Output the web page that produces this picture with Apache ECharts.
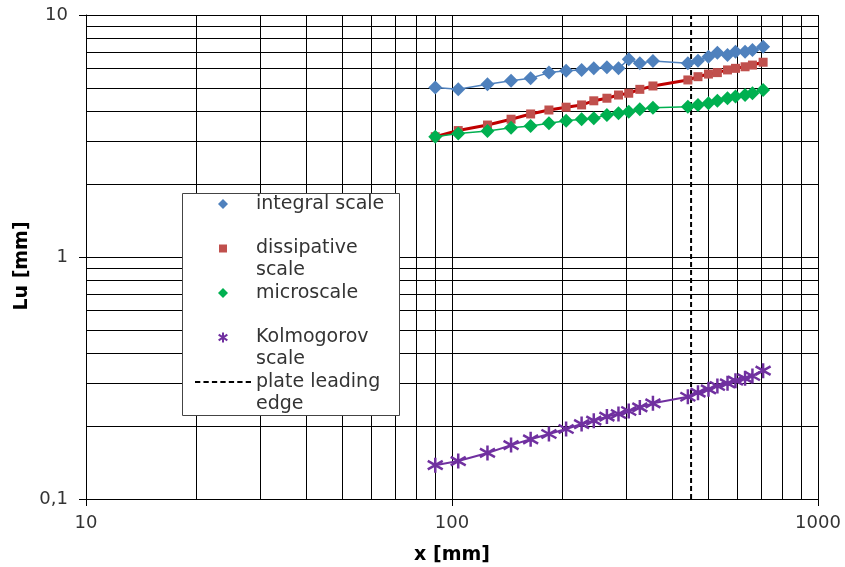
<!DOCTYPE html>
<html>
<head>
<meta charset="utf-8">
<script src="https://cdn.jsdelivr.net/npm/echarts@6/dist/echarts.min.js"></script>
<style>
html,body{margin:0;padding:0;background:#fff;}
#chart{width:845px;height:567px;}
</style>
</head>
<body>
<div id="chart"></div>
<script>
// ---- data ----
const xValues = [90, 104, 125, 145, 164, 184, 205, 226, 244, 265, 285, 304, 326, 354, 441, 470, 502, 531, 566, 595, 632, 662, 708];
const integralScale = [5.02, 4.93, 5.17, 5.35, 5.48, 5.78, 5.89, 5.93, 6.02, 6.08, 6.02, 6.56, 6.32, 6.45, 6.32, 6.47, 6.72, 6.99, 6.84, 7.05, 7.05, 7.17, 7.40];
const dissipativeScale = [3.14, 3.33, 3.51, 3.71, 3.90, 4.05, 4.16, 4.25, 4.42, 4.53, 4.67, 4.75, 4.93, 5.09, 5.39, 5.56, 5.70, 5.78, 5.93, 6.02, 6.11, 6.21, 6.38];
const microScale = [3.14, 3.24, 3.32, 3.42, 3.48, 3.57, 3.66, 3.71, 3.74, 3.86, 3.93, 3.98, 4.08, 4.14, 4.18, 4.25, 4.32, 4.42, 4.53, 4.60, 4.67, 4.75, 4.90];
const kolmogorovScale = [0.138, 0.1435, 0.155, 0.167, 0.1765, 0.1856, 0.1947, 0.204, 0.2107, 0.219, 0.2245, 0.231, 0.239, 0.2485, 0.2646, 0.275, 0.284, 0.293, 0.3007, 0.3083, 0.3153, 0.3224, 0.339];
const plateEdgeX = [450, 450];
const plateEdgeY = [0.1, 10];
const xMinorTicks = [20, 30, 40, 50, 60, 70, 80, 90, 200, 300, 400, 500, 600, 700, 800, 900];
const yMinorTicks = [0.2, 0.3, 0.4, 0.5, 0.6, 0.7, 0.8, 0.9, 2, 3, 4, 5, 6, 7, 8, 9];
const seriesNames = ['integral scale', 'dissipative scale', 'microscale', 'Kolmogorov scale', 'plate leading edge'];
const legendLines = [['integral scale', ' '], ['dissipative', 'scale'], ['microscale', ' '], ['Kolmogorov', 'scale'], ['plate leading', 'edge']];
// ---------------------------------------

const pair = (xs, ys) => xs.map((x, i) => [x, ys[i]]);
const starPath = 'path://M0,-6L0,6M-5.2,-3.4L5.2,3.4M-5.2,3.4L5.2,-3.4';
const diamondIcon = 'path://M0,-5L5,0L0,5L-5,0Z';
const squareIcon = 'path://M5,5M-5,-5M-4,-4h8v8h-8z';
const dashIcon = 'path://M0,0h5v2h-5zM8,0h5v2h-5zM16,0h5v2h-5zM24,0h5v2h-5zM32,0h5v2h-5zM40,0h5v2h-5zM48,0h5v2h-5z';
const FONT = 'DejaVu Sans';

const chart = echarts.init(document.getElementById('chart'), null, {renderer: 'canvas'});
const labelMap = {};
seriesNames.forEach((n, i) => labelMap[n] = ' \n' + legendLines[i].join('\n'));

const option = {
  animation: false,
  backgroundColor: '#fff',
  grid: {left: 86, right: 27, top: 15, bottom: 68, containLabel: false, outerBoundsMode: 'none'},
  xAxis: {
    type: 'log', logBase: 10, min: 10, max: 1000,
    name: 'x [mm]', nameLocation: 'middle', nameGap: 47, nameMoveOverlap: false,
    nameTextStyle: {fontFamily: FONT, fontSize: 19, fontWeight: 'bold', color: '#000'},
    axisLine: {show: true, lineStyle: {color: '#000', width: 1}},
    axisTick: {show: true, length: 7, lineStyle: {color: '#000'}},
    axisLabel: {fontFamily: FONT, fontSize: 18, color: '#333', margin: 15,
      formatter: v => String(Math.round(v))},
    splitLine: {show: true, lineStyle: {color: '#000', width: 1}},
    minorTick: {show: false}, minorSplitLine: {show: false}
  },
  yAxis: {
    type: 'log', logBase: 10, min: 0.1, max: 10,
    name: 'Lu [mm]', nameLocation: 'middle', nameGap: 54, nameMoveOverlap: false,
    nameTextStyle: {fontFamily: FONT, fontSize: 19, fontWeight: 'bold', color: '#000', padding: [0, 18, 0, 0]},
    axisLine: {show: true, lineStyle: {color: '#000', width: 1}},
    axisTick: {show: true, length: 7, lineStyle: {color: '#000'}},
    axisLabel: {fontFamily: FONT, fontSize: 18, color: '#333', margin: 18,
      formatter: v => String(Math.round(v * 1000) / 1000).replace('.', ',')},
    splitLine: {show: true, lineStyle: {color: '#000', width: 1}},
    minorTick: {show: false}, minorSplitLine: {show: false}
  },
  legend: {
    orient: 'vertical', left: 195, top: 171, padding: 0,
    itemWidth: 56, itemHeight: 10, itemGap: -21.5,
    selectedMode: false, symbolKeepAspect: true,
    data: [
      {name: seriesNames[0], icon: diamondIcon},
      {name: seriesNames[1], icon: squareIcon},
      {name: seriesNames[2], icon: diamondIcon},
      {name: seriesNames[3], icon: starPath},
      {name: seriesNames[4], icon: dashIcon}
    ],
    formatter: name => labelMap[name],
    textStyle: {fontFamily: FONT, fontSize: 19, color: '#333', lineHeight: 22}
  },
  graphic: [{
    type: 'rect', z: 3, silent: true,
    shape: {x: 182.5, y: 193.5, width: 217, height: 222},
    style: {fill: '#fff', stroke: '#444', lineWidth: 1}
  }],
  series: [
    {
      name: 'minor grid', type: 'line', data: [], silent: true, z: 1,
      markLine: {
        silent: true, symbol: ['none', 'none'], z: 1, animation: false,
        label: {show: false},
        lineStyle: {color: '#000', width: 1, type: 'solid'},
        emphasis: {disabled: true},
        data: xMinorTicks.map(v => ({xAxis: v})).concat(yMinorTicks.map(v => ({yAxis: v})))
      }
    },
    {
      name: seriesNames[0], type: 'line', data: pair(xValues, integralScale), z: 2,
      symbol: 'diamond', symbolSize: 14,
      itemStyle: {color: '#4F81BD', borderWidth: 0},
      lineStyle: {color: '#4F81BD', width: 1.5}
    },
    {
      name: seriesNames[1], type: 'line', data: pair(xValues, dissipativeScale), z: 2,
      symbol: 'rect', symbolSize: 9,
      itemStyle: {color: '#C0504D', borderWidth: 0},
      lineStyle: {color: '#C00000', width: 3}
    },
    {
      name: seriesNames[2], type: 'line', data: pair(xValues, microScale), z: 2,
      symbol: 'diamond', symbolSize: 14,
      itemStyle: {color: '#00B050', borderWidth: 0},
      lineStyle: {color: '#00B050', width: 1.5}
    },
    {
      name: seriesNames[3], type: 'line', data: pair(xValues, kolmogorovScale), z: 2,
      symbol: starPath, symbolSize: 15,
      itemStyle: {color: '#7030A0', borderColor: '#7030A0', borderWidth: 2.5},
      lineStyle: {color: '#7030A0', width: 2}
    },
    {
      name: seriesNames[4], type: 'line', data: pair(plateEdgeX, plateEdgeY), z: 2,
      symbol: 'none',
      itemStyle: {color: '#000'},
      lineStyle: {color: '#000', width: 2, type: [5, 3]}
    }
  ]
};
chart.setOption(option);
</script>
</body>
</html>
